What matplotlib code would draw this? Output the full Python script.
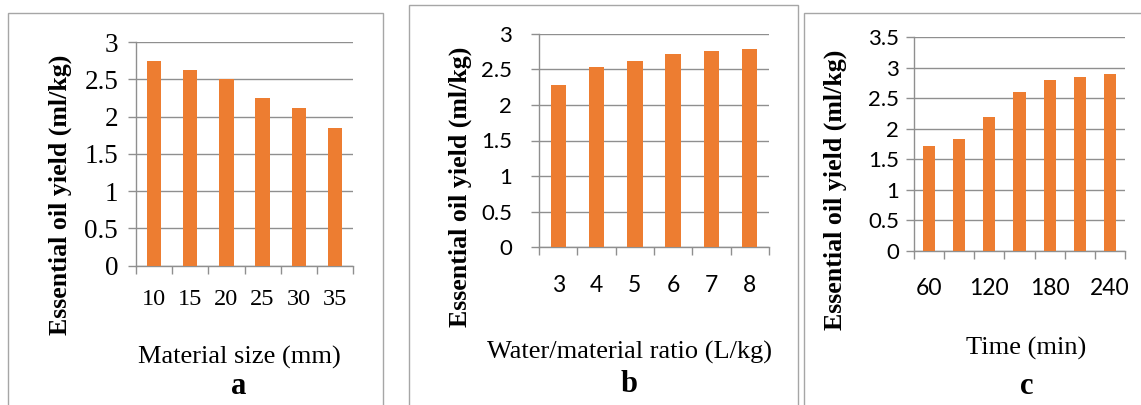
import matplotlib
matplotlib.use("Agg")
import matplotlib.pyplot as plt
from matplotlib.patches import Rectangle
from matplotlib.ticker import FixedLocator, MultipleLocator

# ---- data ----
size_labels = ["10", "15", "20", "25", "30", "35"]
size_yield = [2.75, 2.62, 2.51, 2.25, 2.11, 1.84]

ratio_labels = ["3", "4", "5", "6", "7", "8"]
ratio_yield = [2.28, 2.53, 2.62, 2.72, 2.76, 2.79]

time_labels = ["60", "90", "120", "150", "180", "210", "240"]
time_yield = [1.72, 1.83, 2.20, 2.61, 2.80, 2.85, 2.90]
time_shown = ["60", "120", "180", "240"]

W, H = 1141, 405
fig = plt.figure(figsize=(W / 100, H / 100), dpi=100)

BAR = "#ED7D31"
GRID = "#8f8f8f"
BORDER = "#a6a6a6"
SERIF = "Liberation Serif"
SANS = "Lato"


def px_axes(l, t, r, b):
    return fig.add_axes([l / W, 1 - b / H, (r - l) / W, (b - t) / H])


def fpos(x, y):
    return x / W, 1 - y / H


# panel borders
for (l, t, r, b) in [(7.5, 12.5, 382.7, 420), (408.7, 4.5, 798, 420), (804.3, 12.5, 1160, 420)]:
    fig.patches.append(Rectangle((l / W, 1 - b / H), (r - l) / W, (b - t) / H,
                                 transform=fig.transFigure, fill=False,
                                 edgecolor=BORDER, linewidth=1.0))


def panel(box, labels, values, ymax, tickfont, xfs, yfs, ypad, xpad, shown=None):
    ax = px_axes(*box)
    n = len(labels)
    x = list(range(n))
    ax.bar(x, values, width=0.4, color=BAR, zorder=3)
    ax.set_xlim(-0.5, n - 0.5)
    ax.set_ylim(0, ymax)
    ax.yaxis.set_major_locator(MultipleLocator(0.5))
    ax.grid(axis="y", color=GRID, linewidth=1.0, zorder=0)
    ax.set_axisbelow(True)
    for s in ["top", "right"]:
        ax.spines[s].set_visible(False)
    for s in ["left", "bottom"]:
        ax.spines[s].set_color(GRID)
        ax.spines[s].set_linewidth(1.0)
    ax.tick_params(axis="y", length=5.8, width=1.0, color=GRID, pad=ypad)
    if shown is None:
        pos = x
        txt = labels
    else:
        pos = [labels.index(s) for s in shown]
        txt = shown
    ax.xaxis.set_major_locator(FixedLocator(pos))
    ax.set_xticklabels(txt)
    ax.xaxis.set_minor_locator(FixedLocator([i - 0.5 for i in range(n + 1)]))
    ax.tick_params(axis="x", which="major", length=0, pad=xpad)
    ax.tick_params(axis="x", which="minor", length=5.8, width=1.0, color=GRID)
    ticks = ax.get_yticks()
    ax.set_yticks(ticks)
    ax.set_yticklabels(["%g" % v for v in ticks])
    ax.set_ylim(0, ymax)
    for lab in ax.get_xticklabels():
        lab.set_fontfamily(tickfont)
        lab.set_fontsize(xfs)
        lab.set_color("black")
    for lab in ax.get_yticklabels():
        lab.set_fontfamily(tickfont)
        lab.set_fontsize(yfs)
        lab.set_color("black")
    return ax


panel((136, 42, 353, 265.7), size_labels, size_yield, 3.0, SERIF, 17.5, 19.5, 7, 17)
panel((539, 33.7, 769, 247.3), ratio_labels, ratio_yield, 3.0, SANS, 16.5, 16, 13.5, 20)
panel((914, 37.3, 1125, 250.7), time_labels, time_yield, 3.5, SANS, 16.5, 16, 5, 20, shown=time_shown)

YLAB = "Essential oil yield (ml/kg)"
for (xc, yc) in [(60, 194.5), (460, 186.5), (835, 190)]:
    fig.text(*fpos(xc, yc), YLAB, rotation=90, ha="center", va="center",
             fontfamily=SERIF, fontweight="bold", fontsize=18.6)

for (xc, yc, s) in [(239.5, 357, "Material size (mm)"), (629.5, 352, "Water/material ratio (L/kg)"),
                    (1026, 348, "Time (min)")]:
    fig.text(*fpos(xc, yc), s, ha="center", va="center", fontfamily=SERIF, fontsize=19)

for (xc, yc, s) in [(239, 386, "a"), (629, 384, "b"), (1027, 387, "c")]:
    fig.text(*fpos(xc, yc), s, ha="center", va="center", fontfamily=SERIF,
             fontweight="bold", fontsize=22)

fig.savefig("out.png", dpi=100)
